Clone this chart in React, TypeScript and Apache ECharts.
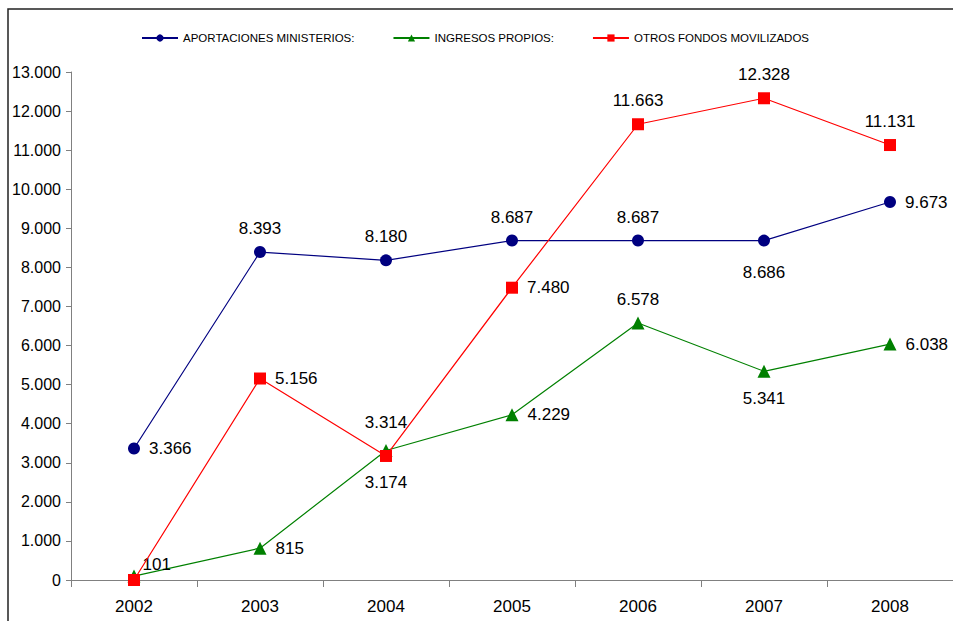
import React, { useEffect, useRef } from "react";
import * as echarts from "echarts";

const categories = ["2002", "2003", "2004", "2005", "2006", "2007", "2008"];
const aportaciones = [3366, 8393, 8180, 8687, 8687, 8686, 9673];
const ingresos = [101, 815, 3314, 4229, 6578, 5341, 6038];
const otros = [0, 5156, 3174, 7480, 11663, 12328, 11131];
const seriesNames = ["APORTACIONES MINISTERIOS:", "INGRESOS PROPIOS:", "OTROS FONDOS MOVILIZADOS"];

const FONT = "'Liberation Sans', Arial, sans-serif";

const fmt = (v: number) => String(v).replace(/\B(?=(\d{3})+(?!\d))/g, ".");

type LabelCfg = { show?: boolean; position?: string; distance?: number; offset?: number[] };

const aportLabels: LabelCfg[] = [
  { position: "right", distance: 9 },
  { position: "top", distance: 9 },
  { position: "top", distance: 9 },
  { position: "top", distance: 9 },
  { position: "top", distance: 9 },
  { position: "bottom", distance: 17 },
  { position: "right", distance: 9 },
];
const ingresosLabels: LabelCfg[] = [
  { position: "right", distance: 2, offset: [0, -12] },
  { position: "right", distance: 9 },
  { position: "top", distance: 13 },
  { position: "right", distance: 9 },
  { position: "top", distance: 8 },
  { position: "bottom", distance: 12 },
  { position: "right", distance: 9 },
];
const otrosLabels: LabelCfg[] = [
  { show: false },
  { position: "right", distance: 9 },
  { position: "bottom", distance: 12 },
  { position: "right", distance: 9 },
  { position: "top", distance: 9 },
  { position: "top", distance: 9 },
  { position: "top", distance: 9 },
];

function build(values: number[], labels: LabelCfg[]) {
  return values.map((v, i) => ({
    value: v,
    label: { show: labels[i].show !== false, ...labels[i] },
  }));
}

export default function App() {
  const ref = useRef<HTMLDivElement>(null);
  useEffect(() => {
    if (!ref.current) return;
    const chart = echarts.init(ref.current, null, { renderer: "svg" });
    const labelStyle = {
      color: "#000",
      fontSize: 17,
      fontFamily: FONT,
      formatter: (p: any) => fmt(p.value),
    };
    chart.setOption({
      animation: false,
      backgroundColor: "#fff",
      graphic: [
        {
          type: "rect",
          shape: { x: 8, y: 9, width: 1000, height: 700 },
          style: { fill: "none", stroke: "#222", lineWidth: 1.5 },
          silent: true,
          z: 100,
        },
      ],
      legend: {
        left: 136,
        top: 27,
        itemWidth: 36,
        itemHeight: 9,
        itemGap: 38,
        textStyle: { fontSize: 11.5, fontFamily: FONT, color: "#000" },
        data: seriesNames,
      },
      grid: { left: 71, width: 886, top: 72, bottom: 41, containLabel: false },
      xAxis: {
        type: "category",
        data: categories,
        boundaryGap: true,
        axisLine: { lineStyle: { color: "#808080", width: 1 } },
        axisTick: { show: true, length: 7, lineStyle: { color: "#808080" } },
        axisLabel: { color: "#000", fontSize: 17, fontFamily: FONT, margin: 18 },
      },
      yAxis: {
        type: "value",
        min: 0,
        max: 13000,
        interval: 1000,
        axisLine: { show: true, lineStyle: { color: "#808080", width: 1 } },
        axisTick: { show: true, length: 5, lineStyle: { color: "#808080" } },
        splitLine: { show: false },
        axisLabel: {
          color: "#000",
          fontSize: 16,
          fontFamily: FONT,
          margin: 10,
          formatter: (v: number) => fmt(v),
        },
      },
      series: [
        {
          name: seriesNames[0],
          type: "line",
          data: build(aportaciones, aportLabels),
          symbol: "circle",
          symbolSize: 12,
          itemStyle: { color: "#000080" },
          lineStyle: { color: "#000080", width: 1.2 },
          label: labelStyle,
          z: 3,
        },
        {
          name: seriesNames[1],
          type: "line",
          data: build(ingresos, ingresosLabels),
          symbol: "triangle",
          symbolSize: 13,
          itemStyle: { color: "#008000" },
          lineStyle: { color: "#008000", width: 1.2 },
          label: labelStyle,
          z: 2,
        },
        {
          name: seriesNames[2],
          type: "line",
          data: build(otros, otrosLabels),
          symbol: "rect",
          symbolSize: 12,
          itemStyle: { color: "#ff0000" },
          lineStyle: { color: "#ff0000", width: 1.2 },
          label: labelStyle,
          z: 4,
        },
      ],
    });
    return () => chart.dispose();
  }, []);
  return (
    <div
      ref={ref}
      style={{ position: "fixed", left: 0, top: 0, width: 953, height: 621, background: "#fff" }}
    />
  );
}
